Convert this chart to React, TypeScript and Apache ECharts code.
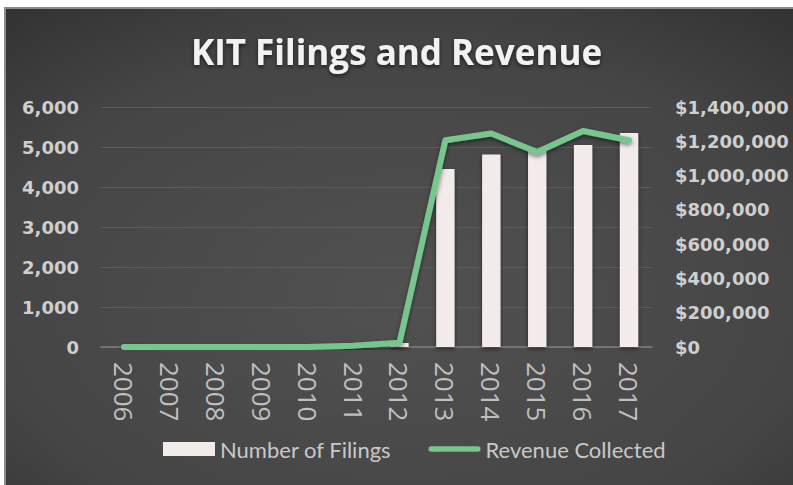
import React, { useEffect, useRef } from "react";
import * as echarts from "echarts";

const years = ["2006", "2007", "2008", "2009", "2010", "2011", "2012", "2013", "2014", "2015", "2016", "2017"];
const filings = [0, 0, 0, 0, 0, 0, 100, 4450, 4810, 4900, 5050, 5350];
const revenue = [0, 0, 0, 0, 0, 8000, 25000, 1206000, 1245000, 1138000, 1260000, 1206000];
const leftTicks = { min: 0, max: 6000, interval: 1000 };
const rightTicks = { min: 0, max: 1400000, interval: 200000 };

const FONT = "Lato, 'Open Sans', sans-serif";
const OS = "'Open Sans', Lato, sans-serif";
const WIDE = "'DejaVu Sans', 'Open Sans', sans-serif";
const NARROW = "'Liberation Sans Narrow', 'Open Sans', sans-serif";

export default function App() {
  const ref = useRef<HTMLDivElement>(null);
  useEffect(() => {
    if (!ref.current) return;
    const chart = echarts.init(ref.current, undefined, { renderer: "svg" });
    chart.setOption({
      animation: false,
      backgroundColor: "#ffffff",
      graphic: [
        {
          type: "rect",
          z: -10,
          silent: true,
          shape: { x: 5, y: 8, width: 790, height: 480 },
          style: {
            fill: new echarts.graphic.RadialGradient(0.5, 0.6, 0.95, [
              { offset: 0, color: "#515151" },
              { offset: 0.55, color: "#454545" },
              { offset: 1, color: "#262626" },
            ]),
            stroke: "#8c8c8c",
            lineWidth: 2,
          },
        },
      ],
      title: {
        text: "KIT Filings and Revenue",
        left: "center",
        top: 29,
        textStyle: {
          color: "#f2f2f2",
          fontFamily: OS,
          fontWeight: "bold",
          fontSize: 35,
          textShadowColor: "rgba(0,0,0,0.6)",
          textShadowBlur: 4,
          textShadowOffsetY: 2,
        },
      },
      legend: {
        bottom: 20,
        left: 158,
        itemWidth: 52,
        itemHeight: 14,
        itemGap: 37,
        textStyle: { color: "#c8c8c8", fontFamily: FONT, fontSize: 22 },
        data: [
          { name: "Number of Filings", icon: "rect" },
          {
            name: "Revenue Collected",
            icon: "path://M3,0 L53,0 A3,3 0 0 1 53,6 L3,6 A3,3 0 0 1 3,0 Z",
          },
        ],
      },
      grid: { left: 101, right: 141, top: 107, bottom: 138, outerBoundsMode: "none", containLabel: false },
      xAxis: {
        type: "category",
        data: years,
        boundaryGap: true,
        axisLine: { lineStyle: { color: "#7f7f7f", width: 1.5 } },
        axisTick: { show: false },
        axisLabel: {
          rotate: -90,
          margin: 15,
          color: "#bfbfbf",
          fontFamily: NARROW,
          fontSize: 26,
        },
      },
      yAxis: [
        {
          type: "value",
          ...leftTicks,
          axisLine: { show: false },
          axisTick: { show: false },
          splitLine: { lineStyle: { color: "#5c5c5c", width: 1 } },
          axisLabel: {
            margin: 22,
            color: "#cfcfcf",
            fontFamily: WIDE,
            fontWeight: "bold",
            fontSize: 18,
            formatter: (v: number) => v.toLocaleString("en-US"),
          },
        },
        {
          type: "value",
          ...rightTicks,
          position: "right",
          axisLine: { show: false },
          axisTick: { show: false },
          splitLine: { show: false },
          axisLabel: {
            margin: 23,
            color: "#cfcfcf",
            fontFamily: WIDE,
            fontWeight: "bold",
            fontSize: 18,
            formatter: (v: number) => "$" + v.toLocaleString("en-US"),
          },
        },
      ],
      series: [
        {
          name: "Number of Filings",
          type: "bar",
          yAxisIndex: 0,
          data: filings,
          barWidth: "40%",
          itemStyle: {
            color: "#f3eaea",
            shadowColor: "rgba(0,0,0,0.5)",
            shadowBlur: 4,
            shadowOffsetY: 2,
          },
        },
        {
          name: "Revenue Collected",
          type: "line",
          yAxisIndex: 1,
          data: revenue,
          symbol: "none",
          lineStyle: {
            color: "#76c68d",
            width: 6,
            cap: "round",
            join: "round",
            shadowColor: "rgba(0,0,0,0.5)",
            shadowBlur: 4,
            shadowOffsetY: 2,
          },
          itemStyle: { color: "#76c68d" },
        },
      ],
    });
    return () => chart.dispose();
  }, []);
  return (
    <div
      ref={ref}
      style={{ position: "absolute", left: 0, top: 0, width: 793, height: 485 }}
    />
  );
}
